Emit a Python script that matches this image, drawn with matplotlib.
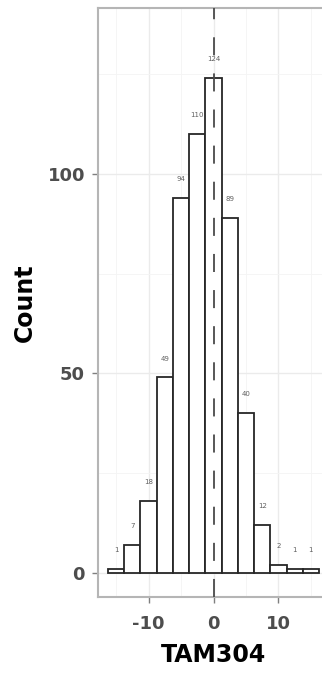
import matplotlib
matplotlib.use('Agg')
import matplotlib.pyplot as plt
import numpy as np

# histogram of TAM304, bin width 2.5 centred on 0
BIN_CENTERS = [-15, -12.5, -10, -7.5, -5, -2.5, 0, 2.5, 5, 7.5, 10, 12.5, 15]
COUNTS = [1, 7, 18, 49, 94, 110, 124, 89, 40, 12, 2, 1, 1]
BIN_WIDTH = 2.5
X_TICKS = [-10, 0, 10]
Y_TICKS = [0, 50, 100]
X_LABEL = 'TAM304'
Y_LABEL = 'Count'

plt.rcParams['lines.scale_dashes'] = False
plt.rcParams['axes.unicode_minus'] = False
plt.rcParams['font.family'] = 'DejaVu Sans'

W, H = 322, 674
fig = plt.figure(figsize=(W / 100, H / 100), dpi=100)

# panel runs past the right edge of the picture (cropped like the original)
left, right = 97.5, 329.5
bottom, top = 597, 8
ax = fig.add_axes([left / W, 1 - bottom / H, (right - left) / W, (bottom - top) / H])

edges_lo = BIN_CENTERS[0] - BIN_WIDTH / 2
edges_hi = BIN_CENTERS[-1] + BIN_WIDTH / 2
pad = 0.05 * (edges_hi - edges_lo)
ax.set_xlim(edges_lo - pad, edges_hi + pad)
ax.set_ylim(-6.1, 141.6)

ax.set_xticks(X_TICKS)
ax.set_yticks(Y_TICKS)
ax.set_xticks([-15, -5, 5, 15], minor=True)
ax.set_yticks([25, 75, 125], minor=True)
ax.grid(which='major', color='#ebebeb', linewidth=1.0, zorder=0)
ax.grid(which='minor', color='#f4f4f4', linewidth=0.6, zorder=0)
ax.set_axisbelow(True)

ax.bar(BIN_CENTERS, COUNTS, width=BIN_WIDTH, color='white', edgecolor='#262626',
       linewidth=1.3, zorder=2)

for xc, c in zip(BIN_CENTERS, COUNTS):
    ax.annotate(str(c), (xc, c), xytext=(0, 13.5), textcoords='offset points',
                ha='center', va='center', fontsize=5, color='#606060', zorder=3)

ax.axvline(0, color='#4a4a4a', linewidth=1.3, dashes=(13, 13), zorder=4)

for s in ax.spines.values():
    s.set_color('#b5b5b5')
    s.set_linewidth(1.5)

ax.tick_params(which='major', length=4, width=1.0, color='#7f7f7f',
               labelsize=13, labelcolor='#4d4d4d', pad=5)
ax.tick_params(axis='x', which='major', pad=9)
ax.tick_params(which='minor', length=0)
for lbl in ax.get_xticklabels() + ax.get_yticklabels():
    lbl.set_fontweight('bold')

ax.set_xlabel(X_LABEL, fontsize=17, fontweight='bold', labelpad=7)
ax.set_ylabel(Y_LABEL, fontsize=17, fontweight='bold', labelpad=8)

fig.savefig('out.png', dpi=100, facecolor='white')
